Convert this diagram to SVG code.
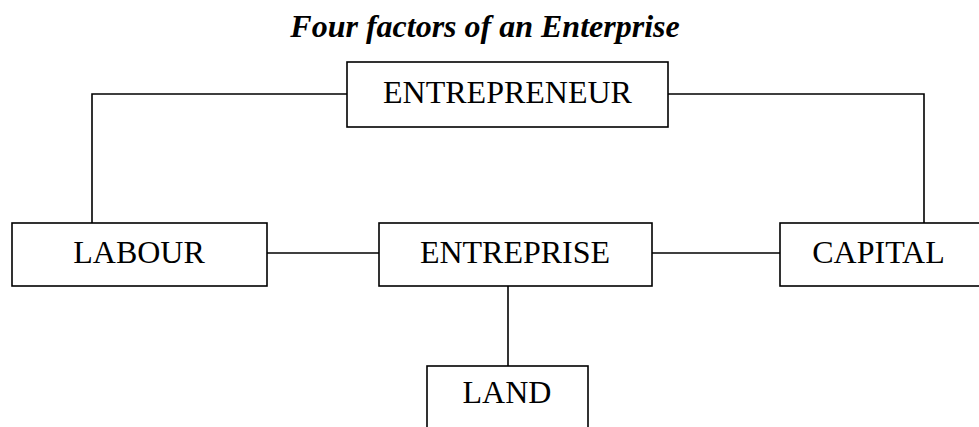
<svg xmlns="http://www.w3.org/2000/svg" width="979" height="427" viewBox="0 0 979 427">
<style>
.box{fill:#fff;stroke:#000;stroke-width:1.6}
.lbl{font-family:"Liberation Serif","Times New Roman",serif;font-size:32px;fill:#000;text-anchor:middle}
.title{font-family:"Liberation Serif","Times New Roman",serif;font-size:32px;font-weight:bold;font-style:italic;fill:#000;text-anchor:middle}
.con{fill:none;stroke:#000;stroke-width:1.6}
</style>
<rect width="979" height="427" fill="#fff"/>
<text class="title" x="485" y="37">Four factors of an Enterprise</text>
<g id="connectors">
<polyline class="con" points="347,94 92,94 92,223"/>
<polyline class="con" points="668,94 924,94 924,223"/>
<line class="con" x1="267" y1="253" x2="379" y2="253"/>
<line class="con" x1="652" y1="253" x2="780" y2="253"/>
<line class="con" x1="508" y1="286" x2="508" y2="366"/>
</g>
<g id="entrepreneur">
<rect class="box" x="347" y="62" width="321" height="65"/>
<text class="lbl" x="507.5" y="103">ENTREPRENEUR</text>
</g>
<g id="labour">
<rect class="box" x="12" y="223" width="255" height="63"/>
<text class="lbl" x="139" y="263">LABOUR</text>
</g>
<g id="entreprise">
<rect class="box" x="379" y="223" width="273" height="63"/>
<text class="lbl" x="515" y="263">ENTREPRISE</text>
</g>
<g id="capital">
<rect class="box" x="780" y="223" width="220" height="63"/>
<text class="lbl" x="878.5" y="263">CAPITAL</text>
</g>
<g id="land">
<rect class="box" x="427" y="366" width="161" height="80"/>
<text class="lbl" x="507" y="403">LAND</text>
</g>
</svg>
